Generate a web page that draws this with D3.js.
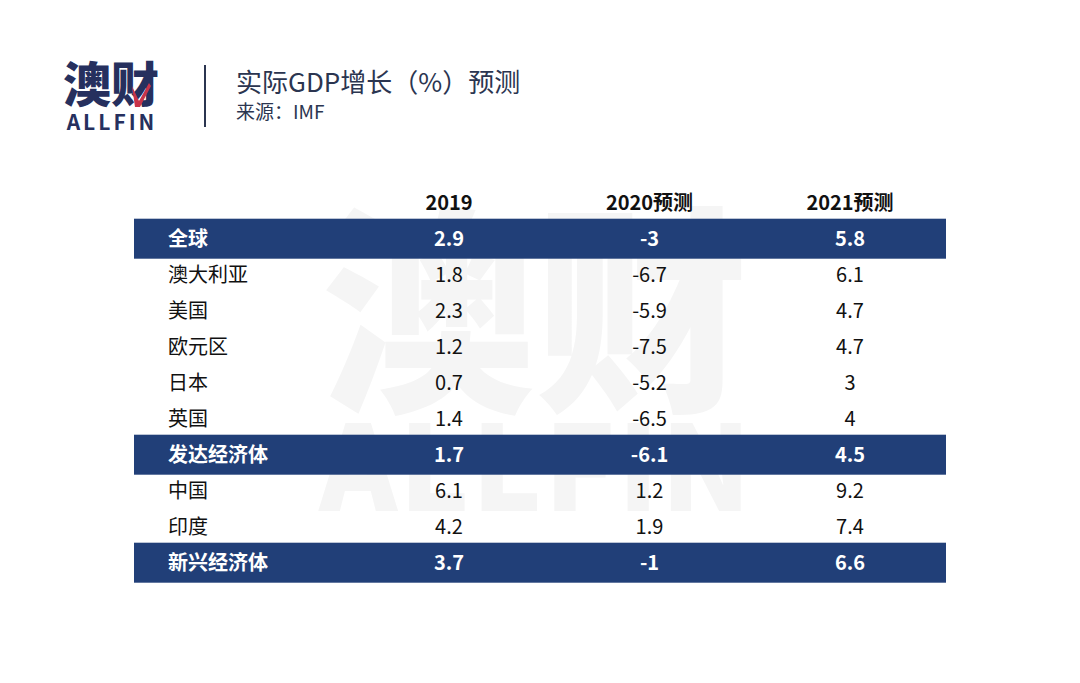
<!DOCTYPE html>
<html><head><meta charset="utf-8">
<script src="https://cdn.jsdelivr.net/npm/d3@7"></script>
<style>html,body{margin:0;padding:0;background:#fff;}svg{display:block;}</style>
</head><body>
<svg id="c" width="1080" height="683"></svg>
<script>
const title = "实际GDP增长（%）预测";
const source = "来源：IMF";
const columns = ["2019", "2020预测", "2021预测"];
const regions = ["全球","澳大利亚","美国","欧元区","日本","英国","发达经济体","中国","印度","新兴经济体"];
const v2019 = ["2.9","1.8","2.3","1.2","0.7","1.4","1.7","6.1","4.2","3.7"];
const v2020 = ["-3","-6.7","-5.9","-7.5","-5.2","-6.5","-6.1","1.2","1.9","-1"];
const v2021 = ["5.8","6.1","4.7","4.7","3","4","4.5","9.2","7.4","6.6"];
const highlighted = ["全球","发达经济体","新兴经济体"];

const svg = d3.select("#c");
const font = "'Noto Sans CJK SC','Noto Sans',sans-serif";
const navy = "#213f78";

// watermark
const wm = svg.append("g").attr("fill","#f5f5f5").attr("font-family",font).attr("font-weight",900);
wm.append("text").attr("transform","translate(535,395) scale(0.97,1)").attr("text-anchor","middle").attr("font-size",220).text("澳财");
wm.append("text").attr("x",536).attr("y",511).attr("text-anchor","middle").attr("font-size",118).attr("letter-spacing",2).text("ALLFIN");

// logo
const logo = svg.append("g").attr("font-family",font);
logo.append("text").attr("x",111).attr("y",102).attr("text-anchor","middle").attr("font-size",48).attr("font-weight",900).attr("fill","#26305e").text("澳财");
logo.append("path").attr("d","M132,86 L139,101 L149,83 L151,86 L140,107 L135,107 Z").attr("fill","#c8344a");
logo.append("text").attr("x",112).attr("y",130).attr("text-anchor","middle").attr("font-size",21).attr("font-weight",700).attr("letter-spacing",3).attr("fill","#26305e").text("ALLFIN");
svg.append("line").attr("x1",205).attr("x2",205).attr("y1",65).attr("y2",127).attr("stroke","#2b3550").attr("stroke-width",2);
svg.append("text").attr("x",236).attr("y",92).attr("font-family",font).attr("font-size",26).attr("fill","#2b3550").text(title);
svg.append("text").attr("x",236).attr("y",119).attr("font-family",font).attr("font-size",19).attr("fill","#2b3550").text(source);

// table
const left = 134, right = 946;
const y = d3.scaleBand().domain(regions).range([220.7, 580.7]);
const x = d3.scalePoint().domain(columns).range([449, 850]);
const values = {"2019": v2019, "2020预测": v2020, "2021预测": v2021};

svg.append("g").selectAll("text").data(columns).join("text")
  .attr("x", d => x(d)).attr("y", 203).attr("dy","0.35em")
  .attr("text-anchor","middle").attr("font-family",font).attr("font-size",20).attr("font-weight",700).attr("fill","#111")
  .text(d => d);

const rows = svg.append("g").selectAll("g").data(regions).join("g")
  .attr("transform", d => `translate(0,${y(d) + y.bandwidth()/2})`);

rows.filter(d => highlighted.includes(d)).append("rect")
  .attr("x", left).attr("width", right-left).attr("y",-20).attr("height",40).attr("fill",navy);

rows.append("text").attr("x",168).attr("dy","0.35em")
  .attr("font-family",font).attr("font-size",20)
  .attr("font-weight", d => highlighted.includes(d) ? 700 : 400)
  .attr("fill", d => highlighted.includes(d) ? "#fff" : "#111")
  .text(d => d);

columns.forEach(col => {
  rows.append("text").attr("x", x(col)).attr("dy","0.35em").attr("text-anchor","middle")
    .attr("font-family",font).attr("font-size",20)
    .attr("font-weight", d => highlighted.includes(d) ? 700 : 400)
    .attr("fill", d => highlighted.includes(d) ? "#fff" : "#111")
    .text((d,i) => values[col][i]);
});
</script>
</body></html>
